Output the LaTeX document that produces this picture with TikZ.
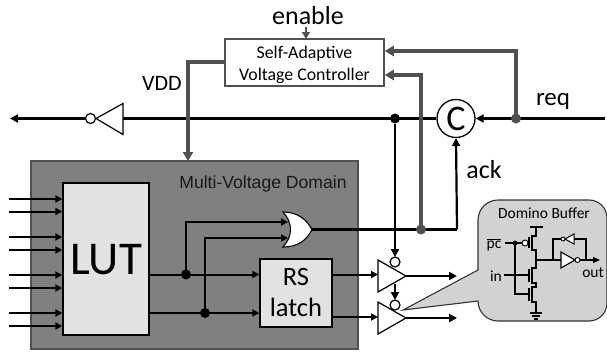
\documentclass[tikz,border=0pt]{standalone}
\usepackage{fontspec}
\setmainfont{Carlito}
\newfontfamily\arialfont{Liberation Sans}
\usetikzlibrary{arrows.meta}
\definecolor{wireg}{HTML}{505050}
\definecolor{dom}{HTML}{808080}
\definecolor{lightb}{HTML}{E2E2E2}
\definecolor{calloutc}{HTML}{D2D2D2}
\tikzset{
  x=1pt,y=-1pt,
  wire/.style={line width=2.2pt,black,-{Triangle[length=8pt,width=8pt]}},
  plainwire/.style={line width=2.2pt,black},
  thinwire/.style={line width=2pt,black,-{Triangle[length=7pt,width=7pt]}},
  gwire/.style={line width=3.2pt,wireg,-{Triangle[length=9pt,width=10pt]}},
  blackbox/.style={draw=black,line width=1.3pt,fill=lightb,inner sep=0pt},
  dotb/.style={circle,fill=black,inner sep=0pt,minimum size=10pt},
  dotg/.style={circle,fill=wireg,inner sep=0pt,minimum size=10pt},
  bubble/.style={circle,draw=black,fill=white,line width=1.2pt,inner sep=0pt,minimum size=10pt},
  gate/.style={draw=black,line width=1.2pt,fill=white,line join=miter},
  tr/.style={line width=1.1pt,black},
  smallbub/.style={circle,draw=black,fill=white,line width=0.9pt,inner sep=0pt,minimum size=5pt},
  lbl/.style={inner sep=0pt,text=black}
}
\begin{document}
\begin{tikzpicture}
\useasboundingbox (0,0) rectangle (607,351);
% --- boxes
\node[draw=wireg,line width=1.5pt,fill=dom,minimum width=327pt,minimum height=188pt,inner sep=0pt] (domain) at (194.5,255) {};
\node[draw=wireg,line width=1.5pt,fill=white,minimum width=159pt,minimum height=47pt,inner sep=0pt,align=center] (ctrl) at (304.5,62.5) {};
\node[lbl,font=\fontsize{17.8}{20}\selectfont] (ctrlA) at (304.5,54) {Self-Adaptive};
\node[lbl,font=\fontsize{17.8}{20}\selectfont] (ctrlB) at (304.5,75.5) {Voltage Controller};
\node[blackbox,minimum width=86pt,minimum height=152pt] (lut) at (106,259) {};
\node[lbl,font=\fontsize{47}{50}\selectfont] (luttxt) at (106,260) {LUT};
\node[blackbox,minimum width=72pt,minimum height=68pt] (rs) at (296,293) {};
\node[lbl,font=\fontsize{26.5}{28}\selectfont] (rstxt) at (296,277) {RS};
\node[lbl,font=\fontsize{26.5}{28}\selectfont] (latchtxt) at (296,307) {latch};
\node[lbl,font=\arialfont\fontsize{17.6}{20}\selectfont,text=black!90] (domtxt) at (263,184) {Multi-Voltage Domain};
% --- labels
\node[lbl,font=\fontsize{26}{28}\selectfont] (en) at (308,16) {enable};
\node[lbl,font=\fontsize{22}{26}\selectfont] (vdd) at (162,83) {VDD};
\node[lbl,font=\fontsize{25}{28}\selectfont] (req) at (553,101) {req};
\node[lbl,font=\fontsize{26}{28}\selectfont] (ack) at (484,170) {ack};
% --- coordinates
\coordinate (lefttip) at (10,118.5);
\coordinate (reqend) at (605,118.5);
\coordinate (j1) at (186,274.5);
\coordinate (j2) at (205,313);
\coordinate (ortip) at (312,229.5);
\coordinate (corner) at (457,229.5);
\node[draw=black,line width=1.3pt,fill=white,circle,inner sep=0pt,minimum size=38pt,font=\fontsize{36}{38}\selectfont] (c) at (456,118.5) {C};
% --- input wires
\foreach \i/\yy in {a/199,b/211.5,c/237,d/250,e/275,f/288,g/313,h/326}{
  \coordinate (in\i) at (9,\yy);
  \draw[thinwire] (in\i) -- (lut.west |- in\i);
}
% --- LUT outputs
\draw[thinwire] (lut.east |- j1) -- (rs.west |- j1);
\draw[thinwire] (lut.east |- j2) -- (rs.west |- j2);
\draw[thinwire] (j1) |- (288,222) coordinate (ora);
\draw[thinwire] (j2) |- (288,238) coordinate (orb);
\node[dotb] (dj1) at (j1) {};
\node[dotb] (dj2) at (j2) {};
% --- OR gate
\draw[gate,line width=1.1pt] (283,212) .. controls (298,212) and (307,220) .. (ortip) .. controls (307,240) and (298,247) .. (283,247) .. controls (293,236) and (293,223) .. (283,212) -- cycle;
% --- main line
\draw[plainwire] (c.west) -- (123,118.5) coordinate (invbase);
\draw[wire] (85,118.5) coordinate (invout) -- (lefttip);
\draw[gate] (123,103.5) -- (96,118.5) -- (123,134.5) -- cycle;
\node[bubble] (invb) at (90.5,118.5) {};
\draw[wire] (reqend) -- (c.east);
\draw[plainwire] (ortip) -- (corner);
\draw[wire] (corner) -- (c.south);
% --- buffers
\coordinate (t1) at (378,260); \coordinate (t1b) at (378,292); \coordinate (t1tip) at (406,276);
\coordinate (t2) at (378,302); \coordinate (t2b) at (378,334); \coordinate (t2tip) at (406,318);
\node[dotb] (jm) at (395,118.5) {};
\draw[wire] (jm) -- (395,257) coordinate (b1top);
\draw[wire] (395,284) -- (395,300) coordinate (b2top);
\draw[thinwire] (rs.east |- j1) -- (378,274.5);
\draw[thinwire] (rs.east |- 0,317) -- (378,317);
\draw[wire] (t1tip) -- (457,276);
\draw[wire] (t2tip) -- (457,318);
\draw[gate] (t1) -- (t1tip) -- (t1b) -- cycle;
\draw[gate] (t2) -- (t2tip) -- (t2b) -- cycle;
\node[bubble] (bub1) at (395,262) {};
\node[bubble] (bub2) at (395,305) {};
% --- gray wires
\draw[gwire] (ctrl.west |- 0,62) -| (188,161);
\coordinate (jreq) at (516,118.5);
\coordinate (jack) at (421,229.5);
\draw[gwire] (jreq) |- (ctrl.east |- 0,51);
\draw[gwire] (jack) |- (ctrl.east |- 0,75);
\node[dotg] (djreq) at (jreq) {};
\node[dotg] (djack) at (jack) {};
\draw[line width=2pt,wireg,-{Triangle[length=7pt,width=8pt]}] (306,27) -- (306,39);
% --- callout
\draw[draw=black!80,line width=1.1pt,fill=calloutc]
  (403,310) -- (478,270) -- (478,220) .. controls (478,209) and (487,200) .. (498,200)
  -- (589,200) .. controls (599,200) and (607,208) .. (607,218) -- (607,303)
  .. controls (607,313) and (599,321) .. (589,321)
  -- (498,321) .. controls (487,321) and (478,312) .. (478,301) -- cycle;
\node[lbl,font=\fontsize{15.5}{17}\selectfont] (dtitle) at (544,213) {Domino Buffer};
\node[lbl,font=\fontsize{15.5}{17}\selectfont] (pc) at (494,245) {$\overline{\mbox{pc}}$};
\node[lbl,font=\fontsize{15.5}{17}\selectfont] (intxt) at (496,276) {in};
\node[lbl,font=\fontsize{15.5}{17}\selectfont] (outtxt) at (593,273) {out};
% transistors
\draw[tr] (530,227) -- (543,227);
\draw[tr] (536,227) -- (536,236) -- (532,236);
\draw[tr] (532,235) -- (532,251);
\draw[tr] (529,237) -- (529,248);
\draw[tr] (532,250) -- (536,250) -- (536,268) -- (532,268);
\draw[tr] (532,267) -- (532,284);
\draw[tr] (529,269) -- (529,282);
\draw[tr] (532,283) -- (536,283) -- (536,287) -- (532,287);
\draw[tr] (532,286) -- (532,303);
\draw[tr] (529,288) -- (529,301);
\draw[tr] (532,302) -- (536,302) -- (536,313);
\draw[tr] (530,313) -- (542,313) (532,316) -- (540,316) (534,319) -- (538,319);
\coordinate (pj) at (515,243);
\draw[tr] (505,243) -- (pj) -- (522,243);
\node[smallbub,minimum size=6pt] (pb) at (525,243) {};
\draw[tr] (pj) -- (515,294) -- (529,294);
\node[circle,fill=black,inner sep=0pt,minimum size=5pt] (pjd) at (pj) {};
\draw[tr] (504,275) -- (529,275);
% keeper + inverter
\coordinate (ij) at (553,260);
\draw[tr] (536,260) -- (561,260);
\draw[tr] (ij) -- (553,239) -- (561,239);
\draw[tr] (574,239) -- (586,239) -- (586,260);
\draw[line width=1.1pt,black,-{Triangle[length=7pt,width=6pt]}] (580,260) -- (600,260);
\draw[gate,line width=1.1pt,fill=white] (561,252) -- (575,260) -- (561,268) -- cycle;
\draw[gate,line width=1pt,fill=white] (574,234) -- (565,239) -- (574,244) -- cycle;
\node[smallbub] (ib) at (577.5,260) {};
\node[smallbub,minimum size=4pt] (kb) at (563,239) {};
\end{tikzpicture}
\end{document}
